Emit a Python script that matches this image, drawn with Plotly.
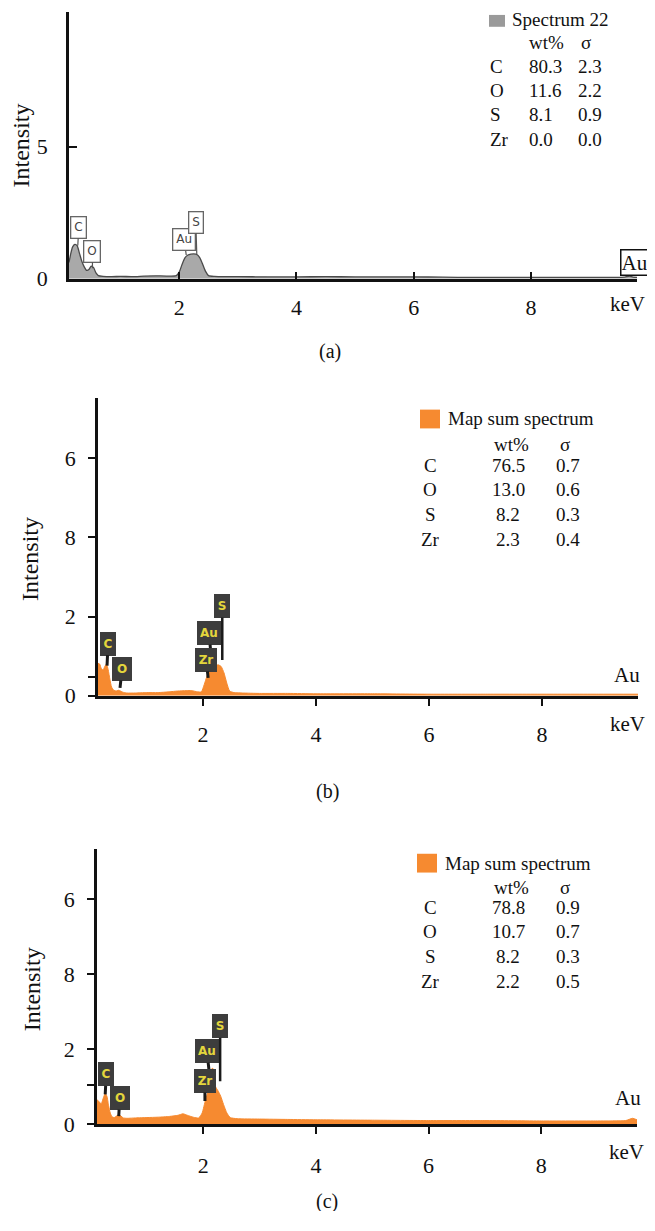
import plotly.graph_objects as go

# ---------------- data ----------------
A_keV = [0.12,0.15,0.18,0.22,0.26,0.30,0.34,0.38,0.42,0.46,0.50,0.54,0.58,0.62,0.70,0.85,1.0,1.2,1.4,1.6,
         1.8,1.95,2.0,2.05,2.10,2.15,2.20,2.25,2.30,2.35,2.40,2.45,2.50,2.60,2.8,3.0,3.5,4.0,4.5,5.0,
         5.5,6.0,6.5,7.0,7.5,8.0,8.5,9.0,9.4,9.6,9.68,9.74,9.81]
A_int = [0.62,0.95,1.2,1.3,1.25,0.95,0.65,0.45,0.32,0.35,0.48,0.42,0.22,0.12,0.09,0.08,0.09,0.08,0.10,0.11,
         0.10,0.12,0.25,0.55,0.80,0.90,0.93,0.94,0.92,0.80,0.55,0.28,0.12,0.09,0.08,0.08,0.07,0.07,0.08,0.07,
         0.07,0.07,0.06,0.05,0.05,0.05,0.05,0.05,0.05,0.06,0.10,0.06,0.05]

B_keV = [0.14,0.17,0.20,0.23,0.26,0.29,0.32,0.35,0.38,0.42,0.46,0.50,0.54,0.58,0.65,0.8,1.0,1.2,1.4,1.55,
         1.7,1.8,1.9,1.97,2.02,2.07,2.12,2.17,2.22,2.27,2.32,2.37,2.42,2.47,2.55,2.7,3.0,3.5,4.0,5.0,
         6.0,7.0,8.0,9.0,9.70]
B_int = [0.82,0.80,0.68,0.65,0.74,0.80,0.66,0.42,0.22,0.14,0.12,0.14,0.12,0.09,0.07,0.07,0.08,0.08,0.10,0.12,
         0.13,0.13,0.10,0.10,0.28,0.50,0.66,0.74,0.76,0.78,0.74,0.58,0.32,0.12,0.08,0.07,0.06,0.06,0.05,0.05,
         0.04,0.04,0.04,0.04,0.04]

C_keV = [0.114,0.15,0.19,0.23,0.26,0.29,0.32,0.35,0.38,0.42,0.46,0.50,0.54,0.58,0.65,0.8,1.0,1.2,1.4,1.55,
         1.64,1.72,1.82,1.92,1.98,2.04,2.09,2.13,2.16,2.19,2.22,2.26,2.31,2.36,2.42,2.48,2.6,3.0,3.5,4.0,
         5.0,6.0,7.0,8.0,9.0,9.5,9.62,9.70]
C_int = [0.66,0.60,0.55,0.72,0.82,0.75,0.50,0.30,0.20,0.18,0.22,0.26,0.22,0.17,0.16,0.17,0.18,0.19,0.21,0.24,
         0.28,0.24,0.19,0.17,0.30,0.65,0.88,0.95,1.50,1.45,1.00,0.90,0.75,0.53,0.30,0.18,0.15,0.14,0.13,0.12,
         0.11,0.10,0.10,0.09,0.09,0.10,0.16,0.12]

ELEMENTS = ["C", "O", "S", "Zr"]
A_WT = ["80.3", "11.6", "8.1", "0.0"]
A_SIG = ["2.3", "2.2", "0.9", "0.0"]
B_WT = ["76.5", "13.0", "8.2", "2.3"]
B_SIG = ["0.7", "0.6", "0.3", "0.4"]
C_WT = ["78.8", "10.7", "8.2", "2.2"]
C_SIG = ["0.9", "0.7", "0.3", "0.5"]

X_TICKS = [2, 4, 6, 8]
X_TICK_TEXT = ["2", "4", "6", "8"]
A_Y_TICKS = [0, 5]
A_Y_TEXT = ["0", "5"]
B_Y_TICKS = [0, 0.48, 2, 4, 6]
C_Y_TICKS = [0, 1.05, 2, 4, 6]
BC_Y_TEXT = ["0", "", "2", "8", "6"]

# ---------------- helpers ----------------
# the page body has an 8px margin (plus some extra height below); size the figure to fit the window
OFF = 8
W, H = 655 - 2 * OFF, 1231 - 2 * OFF - 12
SERIF = "Liberation Serif"
SANS = "DejaVu Sans"


def PX(x):
    return (x - OFF) / W


def PY(y):
    return 1 - (y - OFF) / H


fig = go.Figure()

GRAY_FILL = "#a9a9a9"
ORANGE = "#f68a30"

fig.add_trace(go.Scatter(x=A_keV, y=A_int, mode="lines", fill="tozeroy",
                         line=dict(color="#4a4a4a", width=1.3, shape="spline", smoothing=0.5),
                         fillcolor=GRAY_FILL, xaxis="x", yaxis="y", showlegend=False))
fig.add_trace(go.Scatter(x=B_keV, y=B_int, mode="lines", fill="tozeroy",
                         line=dict(color=ORANGE, width=1.0, shape="spline", smoothing=0.5),
                         fillcolor=ORANGE, xaxis="x2", yaxis="y2", showlegend=False))
fig.add_trace(go.Scatter(x=C_keV, y=C_int, mode="lines", fill="tozeroy",
                         line=dict(color=ORANGE, width=1.0, shape="spline", smoothing=0.5),
                         fillcolor=ORANGE, xaxis="x3", yaxis="y3", showlegend=False))

axis_common = dict(showgrid=False, zeroline=False, showline=True, linecolor="#111", linewidth=2.5,
                   tickcolor="#111", tickwidth=2, tickfont=dict(family=SERIF, size=22, color="#111"),
                   tickmode="array")

layout = dict(
    width=W, height=H, margin=dict(l=0, r=0, t=0, b=0),
    paper_bgcolor="white", plot_bgcolor="white", showlegend=False,
    xaxis=dict(axis_common, domain=[PX(69), PX(637)], range=[0.12, 9.81], anchor="y",
               tickvals=X_TICKS, ticktext=X_TICK_TEXT, ticks="inside", ticklen=7, ticklabelstandoff=7),
    yaxis=dict(axis_common, domain=[PY(281.7), PY(11.7)], range=[0, 10.12], anchor="x",
               tickvals=A_Y_TICKS, ticktext=A_Y_TEXT, ticks="inside", ticklen=8, ticklabelstandoff=14),
    xaxis2=dict(axis_common, domain=[PX(98), PX(638)], range=[0.14, 9.70], anchor="y2",
                tickvals=X_TICKS, ticktext=X_TICK_TEXT, ticks="outside", ticklen=7, ticklabelstandoff=10),
    yaxis2=dict(axis_common, domain=[PY(703.3), PY(402)], range=[0, 7.52], anchor="x2",
                tickvals=B_Y_TICKS, ticktext=BC_Y_TEXT, ticks="outside", ticklen=7, ticklabelstandoff=8),
    xaxis3=dict(axis_common, domain=[PX(97), PX(637)], range=[0.114, 9.70], anchor="y3",
                tickvals=X_TICKS, ticktext=X_TICK_TEXT, ticks="outside", ticklen=7, ticklabelstandoff=13),
    yaxis3=dict(axis_common, domain=[PY(1136.5), PY(858)], range=[0, 7.35], anchor="x3",
                tickvals=C_Y_TICKS, ticktext=BC_Y_TEXT, ticks="outside", ticklen=7, ticklabelstandoff=8),
)
fig.update_layout(**layout)

ann = []
shapes = []


def text(x, y, t, size=19, xanchor="center", angle=0, family=SERIF, color="#111"):
    ann.append(dict(x=PX(x), y=PY(y), xref="paper", yref="paper", text=t, showarrow=False,
                    xanchor=xanchor, yanchor="middle", textangle=angle,
                    font=dict(family=family, size=size, color=color)))


# axis titles and units
text(21, 147, "Intensity", size=24, angle=-90)
text(30, 565, "Intensity", size=24, angle=-90)
text(32, 1000, "Intensity", size=24, angle=-90)
text(627, 307, "keV", size=21)
text(627, 732, "keV", size=21)
text(626, 1165, "keV", size=21)
text(330, 355, "(a)", size=20)
text(327, 800, "(b)", size=20)
text(327, 1215, "(c)", size=20)

# Au labels
ann.append(dict(x=PX(620), y=PY(265), xref="paper", yref="paper", text="Au", showarrow=False,
                xanchor="left", yanchor="middle", bgcolor="white", bordercolor="#111", borderwidth=1.5,
                borderpad=0, font=dict(family=SERIF, size=21, color="#111")))
text(627, 682, "Au", size=21)
text(628, 1110, "Au", size=21)

# legend tables
shapes.append(dict(type="rect", xref="paper", yref="paper", x0=PX(489), x1=PX(505), y0=PY(27), y1=PY(15),
                   fillcolor="#9a9a9a", line=dict(width=0)))
text(510, 20, "Spectrum 22", xanchor="left")
text(527, 43, "wt%", xanchor="left")
text(579, 43, "σ", xanchor="left")
for i, el in enumerate(ELEMENTS):
    yy = 67 + i * 24.5
    text(488, yy, el, xanchor="left")
    text(527, yy, A_WT[i], xanchor="left")
    text(576, yy, A_SIG[i], xanchor="left")

for (sq_x0, sq_y0, title_y, wt_y, row_y0, wts, sigs) in [
    (420, 414, 423, 449, 470, B_WT, B_SIG),
    (417, 863, 873, 897, 917, C_WT, C_SIG),
]:
    shapes.append(dict(type="rect", xref="paper", yref="paper", x0=PX(sq_x0), x1=PX(sq_x0 + 20),
                       y0=PY(sq_y0 + 19), y1=PY(sq_y0), fillcolor=ORANGE, line=dict(width=0)))
    text(sq_x0 + 26, title_y, "Map sum spectrum", xanchor="left")
    text(511, wt_y, "wt%")
    text(565, wt_y, "σ")
    for i, el in enumerate(ELEMENTS):
        yy = row_y0 + i * 25
        text(430, yy, el)
        text(508, yy, wts[i])
        text(568, yy, sigs[i])

# peak labels, panel (a): white boxes
for name, kev, val, ax, ay in [("C", 0.27, 1.26, 1, -18), ("O", 0.52, 0.40, 0, -17),
                               ("Au", 2.12, 0.90, -2, -15), ("S", 2.30, 0.93, -1, -32)]:
    ann.append(dict(x=kev, y=val, xref="x", yref="y", text=name, showarrow=True, ax=ax, ay=ay,
                    arrowhead=0, arrowwidth=1.2, arrowcolor="#555", standoff=0,
                    bgcolor="white", bordercolor="#666", borderwidth=1.3, borderpad=3,
                    font=dict(family=SANS, size=12, color="#444")))

# peak labels, panels (b) and (c): dark boxes with yellow text
DARK = "#3d3d3d"
YEL = "#e3d63c"
for xr, yr, items in [
    ("x2", "y2", [("C", 0.30, 0.76, 1, -22, 10), ("O", 0.53, 0.20, 2, -19, 14),
                  ("Au", 2.14, 1.05, -2, -21, 18), ("Zr", 2.09, 0.45, -2, -18, 16),
                  ("S", 2.34, 0.90, 0, -54, 10)]),
    ("x3", "y3", [("C", 0.26, 0.80, 1, -20, 10), ("O", 0.50, 0.22, 1, -18, 14),
                  ("Au", 2.10, 1.47, -2, -18, 18), ("Zr", 2.03, 0.62, 0, -20, 16),
                  ("S", 2.30, 1.15, 0, -55, 10)]),
]:
    for name, kev, val, ax, ay, w in items:
        ann.append(dict(x=kev, y=val, xref=xr, yref=yr, text="<b>" + name + "</b>", showarrow=True,
                        ax=ax, ay=ay, arrowhead=0, arrowwidth=2.5 if name == "S" else 3,
                        arrowcolor="#1a1a1a", standoff=0, width=w, height=18,
                        bgcolor=DARK, bordercolor=DARK, borderwidth=1, borderpad=2,
                        font=dict(family=SANS, size=12, color=YEL)))

fig.update_layout(annotations=ann, shapes=shapes)
fig.write_html("out.html")
